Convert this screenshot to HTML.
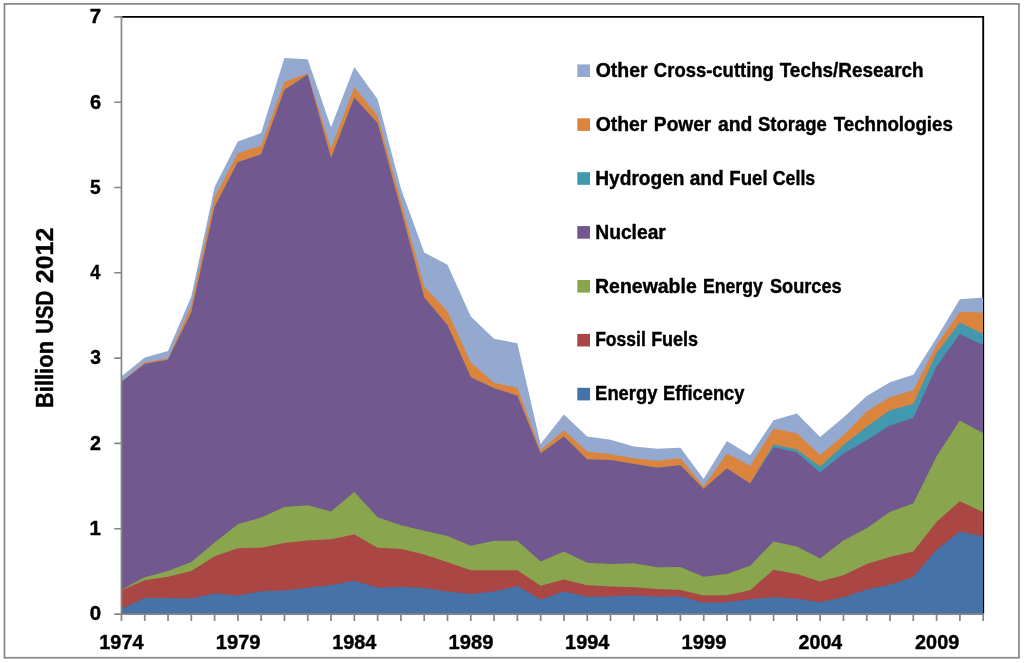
<!DOCTYPE html>
<html lang="en"><head><meta charset="utf-8"><title>Energy RD&amp;D budget by technology</title>
<style>
html,body{margin:0;padding:0;background:#fff;}
body{width:1024px;height:663px;overflow:hidden;}
svg{display:block;will-change:transform;}
text{font-family:"Liberation Sans",sans-serif;font-weight:bold;fill:#000;stroke:#000;stroke-width:0.4px;stroke-linejoin:round;}
</style></head><body>
<svg width="1024" height="663" viewBox="0 0 1024 663">
<rect x="0" y="0" width="1024" height="663" fill="#fff"/>
<rect x="4.45" y="3.9" width="1014.5" height="653.85" fill="#fff" stroke="#858585" stroke-width="1.7"/>
<path d="M121.45,16.85 H983.2 V614.0" fill="none" stroke="#000" stroke-width="1.9"/>
<polygon fill="#93A9CF" points="121.4,613.8 121.4,376.4 144.7,357.5 168.0,351.1 191.3,296.4 214.6,186.9 237.8,141.5 261.1,133.1 284.4,58.0 307.7,59.3 331.0,127.2 354.3,66.9 377.6,99.3 400.9,188.5 424.2,252.5 447.5,264.7 470.8,316.4 494.0,338.7 517.3,343.2 540.6,444.0 563.9,414.5 587.2,436.5 610.5,439.7 633.8,446.4 657.1,448.7 680.4,447.7 703.6,478.9 726.9,441.1 750.2,455.2 773.5,420.2 796.8,413.4 820.1,437.1 843.4,417.5 866.7,396.0 890.0,382.2 913.3,374.7 936.5,338.1 959.8,299.3 983.0,297.5 983.0,613.8"/>
<polygon fill="#DB843D" points="121.4,613.8 121.4,381.4 144.7,362.6 168.0,358.2 191.3,305.4 214.6,197.6 237.8,153.2 261.1,145.7 284.4,81.9 307.7,73.3 331.0,148.4 354.3,87.1 377.6,115.7 400.9,201.6 424.2,286.4 447.5,311.4 470.8,362.6 494.0,382.7 517.3,387.7 540.6,450.3 563.9,430.2 587.2,451.5 610.5,454.3 633.8,458.2 657.1,460.7 680.4,458.2 703.6,486.4 726.9,453.4 750.2,465.7 773.5,428.7 796.8,433.2 820.1,455.1 843.4,435.6 866.7,411.3 890.0,397.2 913.3,390.2 936.5,345.1 959.8,311.8 983.0,312.6 983.0,613.8"/>
<polygon fill="#4198AF" points="121.4,613.8 121.4,382.1 144.7,363.9 168.0,359.8 191.3,312.6 214.6,207.1 237.8,162.2 261.1,154.5 284.4,90.1 307.7,74.6 331.0,158.2 354.3,97.8 377.6,123.3 400.9,209.7 424.2,297.5 447.5,325.2 470.8,377.2 494.0,388.2 517.3,395.7 540.6,453.6 563.9,436.5 587.2,459.5 610.5,460.0 633.8,464.0 657.1,467.7 680.4,465.2 703.6,489.0 726.9,468.5 750.2,483.5 773.5,444.4 796.8,449.4 820.1,466.4 843.4,445.1 866.7,426.8 890.0,410.2 913.3,403.9 936.5,353.1 959.8,322.5 983.0,333.9 983.0,613.8"/>
<polygon fill="#71588F" points="121.4,613.8 121.4,382.1 144.7,363.9 168.0,359.8 191.3,312.6 214.6,207.1 237.8,162.2 261.1,154.5 284.4,90.1 307.7,74.6 331.0,158.2 354.3,97.8 377.6,123.3 400.9,209.7 424.2,297.5 447.5,325.2 470.8,377.2 494.0,388.2 517.3,395.7 540.6,453.6 563.9,436.5 587.2,459.5 610.5,460.0 633.8,464.0 657.1,467.7 680.4,465.2 703.6,489.0 726.9,468.5 750.2,483.5 773.5,447.2 796.8,452.6 820.1,472.6 843.4,453.5 866.7,440.2 890.0,425.6 913.3,418.1 936.5,366.4 959.8,333.9 983.0,345.1 983.0,613.8"/>
<polygon fill="#89A54E" points="121.4,613.8 121.4,589.8 144.7,577.2 168.0,571.0 191.3,562.0 214.6,542.6 237.8,524.2 261.1,517.4 284.4,507.1 307.7,505.3 331.0,511.4 354.3,491.9 377.6,517.2 400.9,525.2 424.2,530.7 447.5,535.9 470.8,545.7 494.0,540.7 517.3,540.7 540.6,561.4 563.9,551.5 587.2,562.7 610.5,564.0 633.8,563.2 657.1,567.2 680.4,567.0 703.6,576.8 726.9,574.0 750.2,565.7 773.5,541.5 796.8,546.5 820.1,558.4 843.4,540.5 866.7,528.2 890.0,511.7 913.3,503.6 936.5,456.4 959.8,420.5 983.0,433.1 983.0,613.8"/>
<polygon fill="#AA4643" points="121.4,613.8 121.4,590.3 144.7,580.3 168.0,576.7 191.3,571.0 214.6,556.3 237.8,548.2 261.1,547.7 284.4,543.0 307.7,540.4 331.0,539.2 354.3,534.6 377.6,547.7 400.9,548.9 424.2,554.5 447.5,562.2 470.8,570.2 494.0,570.2 517.3,570.2 540.6,585.7 563.9,579.5 587.2,585.3 610.5,586.5 633.8,587.2 657.1,589.0 680.4,590.0 703.6,595.5 726.9,595.3 750.2,590.3 773.5,569.7 796.8,574.0 820.1,581.4 843.4,575.2 866.7,564.0 890.0,556.9 913.3,551.5 936.5,521.9 959.8,501.2 983.0,512.0 983.0,613.8"/>
<polygon fill="#4572A7" points="121.4,613.8 121.4,609.0 144.7,598.1 168.0,598.1 191.3,598.5 214.6,593.5 237.8,595.5 261.1,591.2 284.4,590.5 307.7,587.8 331.0,585.0 354.3,580.8 377.6,587.8 400.9,587.0 424.2,588.0 447.5,591.5 470.8,594.1 494.0,591.5 517.3,586.1 540.6,599.5 563.9,591.5 587.2,596.8 610.5,596.5 633.8,595.3 657.1,596.8 680.4,596.3 703.6,602.7 726.9,602.3 750.2,599.3 773.5,597.3 796.8,598.8 820.1,602.2 843.4,597.3 866.7,589.5 890.0,584.8 913.3,577.0 936.5,549.7 959.8,531.4 983.0,536.4 983.0,613.8"/>
<g stroke="#868686" fill="none">
<path stroke-width="1.7" d="M121.45,16 V614.85"/>
<path stroke-width="1.75" d="M114.3,614.0 H984"/>
<path stroke-width="1.6" d="M114.3,528.70H121.45M114.3,443.40H121.45M114.3,358.10H121.45M114.3,272.80H121.45M114.3,187.50H121.45M114.3,102.20H121.45M114.3,16.90H121.45"/>
<path stroke-width="1.7" d="M121.45,614.0V620.9M144.74,614.0V620.9M168.03,614.0V620.9M191.32,614.0V620.9M214.61,614.0V620.9M237.90,614.0V620.9M261.19,614.0V620.9M284.48,614.0V620.9M307.77,614.0V620.9M331.06,614.0V620.9M354.35,614.0V620.9M377.64,614.0V620.9M400.93,614.0V620.9M424.22,614.0V620.9M447.51,614.0V620.9M470.80,614.0V620.9M494.09,614.0V620.9M517.38,614.0V620.9M540.67,614.0V620.9M563.96,614.0V620.9M587.25,614.0V620.9M610.54,614.0V620.9M633.83,614.0V620.9M657.12,614.0V620.9M680.41,614.0V620.9M703.70,614.0V620.9M726.99,614.0V620.9M750.28,614.0V620.9M773.57,614.0V620.9M796.86,614.0V620.9M820.15,614.0V620.9M843.44,614.0V620.9M866.73,614.0V620.9M890.02,614.0V620.9M913.31,614.0V620.9M936.60,614.0V620.9M959.89,614.0V620.9M983.18,614.0V620.9"/>
</g>
<g font-size="19.9">
<text x="89.88" y="620.3" textLength="11.36" lengthAdjust="spacingAndGlyphs">0</text>
<text x="89.47" y="535.0" textLength="11.36" lengthAdjust="spacingAndGlyphs">1</text>
<text x="90.11" y="449.7" textLength="10.90" lengthAdjust="spacingAndGlyphs">2</text>
<text x="90.32" y="364.4" textLength="10.68" lengthAdjust="spacingAndGlyphs">3</text>
<text x="90.34" y="279.1" textLength="10.07" lengthAdjust="spacingAndGlyphs">4</text>
<text x="90.12" y="193.8" textLength="10.68" lengthAdjust="spacingAndGlyphs">5</text>
<text x="89.90" y="108.5" textLength="11.12" lengthAdjust="spacingAndGlyphs">6</text>
<text x="89.88" y="23.2" textLength="11.36" lengthAdjust="spacingAndGlyphs">7</text>
<text x="99.31" y="649.2" textLength="44.18" lengthAdjust="spacingAndGlyphs">1974</text>
<text x="215.74" y="649.2" textLength="44.81" lengthAdjust="spacingAndGlyphs">1979</text>
<text x="332.21" y="649.2" textLength="44.18" lengthAdjust="spacingAndGlyphs">1984</text>
<text x="448.64" y="649.2" textLength="44.81" lengthAdjust="spacingAndGlyphs">1989</text>
<text x="565.11" y="649.2" textLength="44.18" lengthAdjust="spacingAndGlyphs">1994</text>
<text x="681.54" y="649.2" textLength="44.81" lengthAdjust="spacingAndGlyphs">1999</text>
<text x="798.61" y="649.2" textLength="43.58" lengthAdjust="spacingAndGlyphs">2004</text>
<text x="915.05" y="649.2" textLength="44.18" lengthAdjust="spacingAndGlyphs">2009</text>
<rect x="577.3" y="64.4" width="12.7" height="12.6" fill="#93A9CF"/>
<text y="77.10"><tspan x="595.72" textLength="51.81" lengthAdjust="spacingAndGlyphs">Other</tspan> <tspan x="653.86" textLength="120.03" lengthAdjust="spacingAndGlyphs">Cross-cutting</tspan> <tspan x="779.71" textLength="143.95" lengthAdjust="spacingAndGlyphs">Techs/Research</tspan></text>
<rect x="577.3" y="118.3" width="12.7" height="12.6" fill="#DB843D"/>
<text y="130.95"><tspan x="595.72" textLength="51.70" lengthAdjust="spacingAndGlyphs">Other</tspan> <tspan x="653.86" textLength="57.45" lengthAdjust="spacingAndGlyphs">Power</tspan> <tspan x="718.02" textLength="34.39" lengthAdjust="spacingAndGlyphs">and</tspan> <tspan x="757.95" textLength="68.87" lengthAdjust="spacingAndGlyphs">Storage</tspan> <tspan x="833.71" textLength="119.16" lengthAdjust="spacingAndGlyphs">Technologies</tspan></text>
<rect x="577.3" y="172.2" width="12.7" height="12.6" fill="#4198AF"/>
<text y="184.80"><tspan x="595.26" textLength="89.32" lengthAdjust="spacingAndGlyphs">Hydrogen</tspan> <tspan x="689.73" textLength="33.97" lengthAdjust="spacingAndGlyphs">and</tspan> <tspan x="729.30" textLength="38.31" lengthAdjust="spacingAndGlyphs">Fuel</tspan> <tspan x="772.79" textLength="42.42" lengthAdjust="spacingAndGlyphs">Cells</tspan></text>
<rect x="577.3" y="226.1" width="12.7" height="12.6" fill="#71588F"/>
<text y="238.65"><tspan x="595.25" textLength="70.60" lengthAdjust="spacingAndGlyphs">Nuclear</tspan></text>
<rect x="577.3" y="280.0" width="12.7" height="12.6" fill="#89A54E"/>
<text y="292.50"><tspan x="595.04" textLength="101.73" lengthAdjust="spacingAndGlyphs">Renewable</tspan> <tspan x="702.96" textLength="59.92" lengthAdjust="spacingAndGlyphs">Energy</tspan> <tspan x="769.95" textLength="71.79" lengthAdjust="spacingAndGlyphs">Sources</tspan></text>
<rect x="577.3" y="333.9" width="12.7" height="12.6" fill="#AA4643"/>
<text y="346.35"><tspan x="595.17" textLength="50.65" lengthAdjust="spacingAndGlyphs">Fossil</tspan> <tspan x="651.14" textLength="47.01" lengthAdjust="spacingAndGlyphs">Fuels</tspan></text>
<rect x="577.3" y="387.8" width="12.7" height="12.6" fill="#4572A7"/>
<text y="400.20"><tspan x="595.11" textLength="62.37" lengthAdjust="spacingAndGlyphs">Energy</tspan> <tspan x="663.02" textLength="81.50" lengthAdjust="spacingAndGlyphs">Efficency</tspan></text>
</g>
<text transform="translate(52.9,406.5) rotate(-90)" font-size="24.0" y="0"><tspan x="-1.54" textLength="67.07" lengthAdjust="spacingAndGlyphs">Billion</tspan> <tspan x="72.67" textLength="43.17" lengthAdjust="spacingAndGlyphs">USD</tspan> <tspan x="123.35" textLength="55.56" lengthAdjust="spacingAndGlyphs">2012</tspan></text>
</svg>
</body></html>
